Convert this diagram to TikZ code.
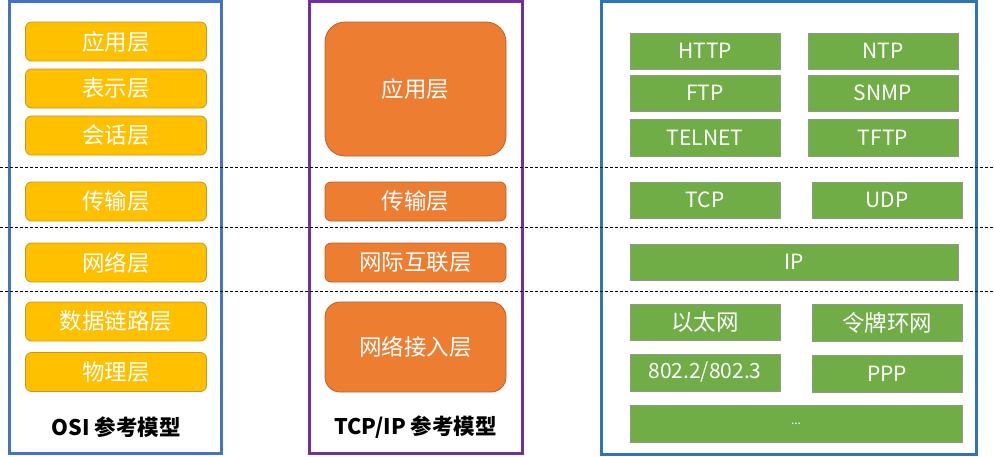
\documentclass[tikz,border=0pt]{standalone}
\usepackage{fontspec}
\setmainfont{Noto Sans CJK SC}
\begin{document}
\begin{tikzpicture}[x=1pt,y=-1pt,
  every node/.style={font=\fontsize{22.5}{26}\selectfont, text=white, inner sep=0pt},
  ybox/.style={draw=yborder, fill=yfill, line width=0.8pt, rounded corners=6pt, minimum width=181pt, minimum height=39pt},
  obox/.style={draw=oborder, fill=ofill, line width=0.8pt, rounded corners=6pt, minimum width=181pt, minimum height=39pt},
  gbox/.style={draw=gborder, fill=gfill, line width=0.8pt, minimum width=150pt, minimum height=36pt},
  lat/.style={font=\fontsize{21}{24}\selectfont},
  frame/.style={line width=3pt},
  sep/.style={draw=black, line width=0.7pt, dash pattern=on 3pt off 2pt},
  captext/.style={text=black, font=\fontsize{21.5}{25}\selectfont\bfseries}
]
\definecolor{yfill}{HTML}{FFC000}
\definecolor{yborder}{HTML}{C49A1A}
\definecolor{ofill}{HTML}{ED7D31}
\definecolor{oborder}{HTML}{B8612A}
\definecolor{gfill}{HTML}{70AD47}
\definecolor{gborder}{HTML}{8C9A86}
\definecolor{lblue}{HTML}{4472C4}
\definecolor{rblue}{HTML}{2E75B6}
\definecolor{purp}{HTML}{7030A0}
\useasboundingbox (0,0) rectangle (994,456);
% frames
\draw[frame, draw=lblue] (9,1.5) rectangle (221.5,453.5);
\draw[frame, draw=purp] (309.5,1.5) rectangle (522,453.5);
\draw[frame, draw=rblue] (601.5,1.5) rectangle (976,454);
% separators
\coordinate (s1l) at (0,167); \coordinate (s1r) at (994,167);
\coordinate (s2l) at (0,227.5); \coordinate (s2r) at (994,227.5);
\coordinate (s3l) at (0,291); \coordinate (s3r) at (994,291);
\draw[sep] (s1l) -- (s1r);
\draw[sep] (s2l) -- (s2r);
\draw[sep] (s3l) -- (s3r);
% OSI
\node[ybox] (o1) at (116,41.5) {应用层};
\node[ybox] (o2) at (116,88.5) {表示层};
\node[ybox] (o3) at (116,135.5) {会话层};
\node[ybox] (o4) at (116,201.5) {传输层};
\node[ybox] (o5) at (116,262.5) {网络层};
\node[ybox] (o6) at (116,321.5) {数据链路层};
\node[ybox] (o7) at (116,372) {物理层};
\node[captext] (osicap) at (116,427) {OSI 参考模型};
% TCP/IP
\node[obox, rounded corners=20pt, minimum height=134pt] (t1) at (415.5,89) {应用层};
\node[obox] (t2) at (415.5,201.5) {传输层};
\node[obox] (t3) at (415.5,262.5) {网际互联层};
\node[obox, rounded corners=15pt, minimum height=90pt] (t4) at (415.5,347) {网络接入层};
\node[captext] (tcpcap) at (415.5,427) {TCP/IP 参考模型};
% protocols
\node[gbox, lat] (http) at (705,51) {HTTP};
\node[gbox, lat] (ntp) at (883,51) {NTP};
\node[gbox, lat] (ftp) at (705,93) {FTP};
\node[gbox, lat] (snmp) at (883,93) {SNMP};
\node[gbox, lat, minimum height=37pt] (telnet) at (705,137.5) {TELNET};
\node[gbox, lat, minimum height=37pt] (tftp) at (883,137.5) {TFTP};
\node[gbox, lat] (tcp) at (705,200) {TCP};
\node[gbox, lat] (udp) at (887,200) {UDP};
\node[gbox, lat, minimum width=328pt] (ip) at (794,262) {IP};
\node[gbox] (eth) at (705,322) {以太网};
\node[gbox, minimum height=37pt] (token) at (887,322.5) {令牌环网};
\node[gbox, lat, minimum height=37pt] (ieee) at (705,372.5) {802.2/802.3};
\node[gbox, lat, minimum height=37pt] (ppp) at (887,373.5) {PPP};
\node[gbox, minimum width=332pt, minimum height=37pt, font=\fontsize{12}{14}\selectfont] (more) at (796,423.5) {...};
\end{tikzpicture}
\end{document}
